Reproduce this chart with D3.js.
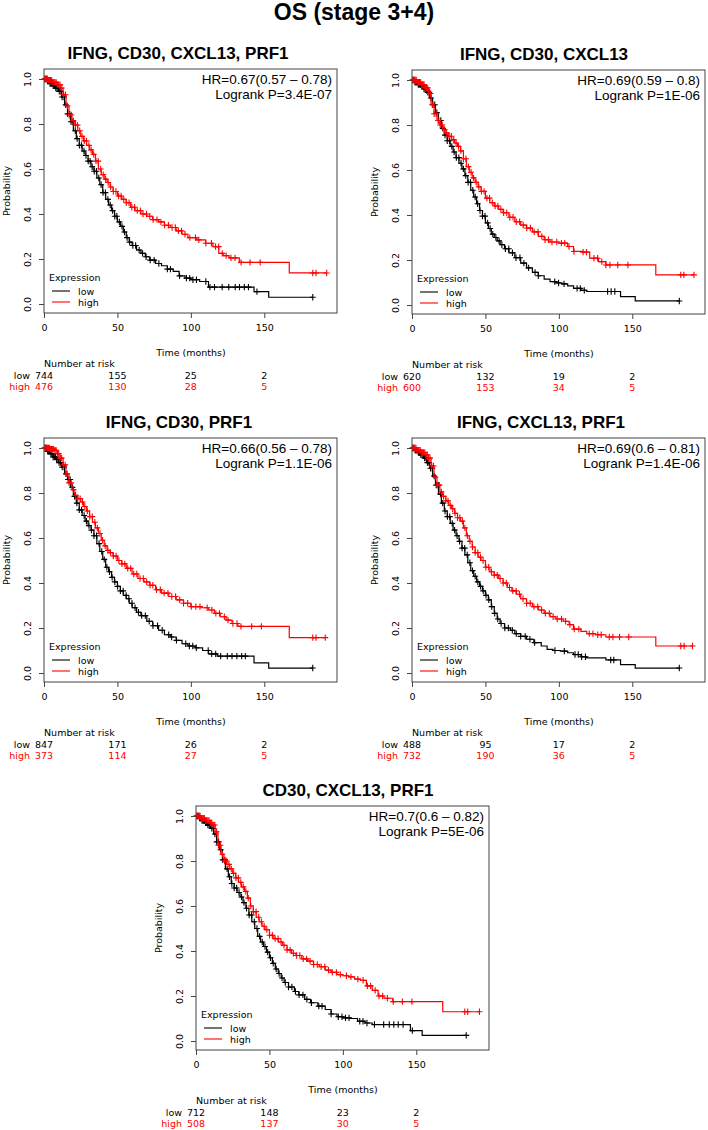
<!DOCTYPE html>
<html><head><meta charset="utf-8">
<script src="https://cdn.jsdelivr.net/npm/d3@7"></script>
<style>body{margin:0;background:#fff}svg{display:block}</style>
</head><body>
<svg id="chart" width="708" height="1130"></svg>
<script>
// ---------- data ----------
const mainTitle = "OS (stage 3+4)";
const titles = ["IFNG, CD30, CXCL13, PRF1","IFNG, CD30, CXCL13","IFNG, CD30, PRF1","IFNG, CXCL13, PRF1","CD30, CXCL13, PRF1"];
const hrTexts = ["HR=0.67(0.57 \u2013 0.78)","HR=0.69(0.59 \u2013 0.8)","HR=0.66(0.56 \u2013 0.78)","HR=0.69(0.6 \u2013 0.81)","HR=0.7(0.6 \u2013 0.82)"];
const pTexts = ["Logrank P=3.4E-07","Logrank P=1E-06","Logrank P=1.1E-06","Logrank P=1.4E-06","Logrank P=5E-06"];
const xTicks = [0,50,100,150];
const yTicks = [0,0.2,0.4,0.6,0.8,1.0];
const riskTimes = [0,50,100,150];
const groups = ["low","high"];

// panel 1
const p1LowT = [0,2,4,6,8,10,12,14,16,18,20,22,24,26,28,30,32,34,36,38,40,42,44,46,48,50,52,54,56,58,60,63,66,69,72,76,80,84,88,92,96,100,106,112,143,153,183];
const p1LowS = [1,0.99,0.98,0.97,0.96,0.945,0.92,0.885,0.845,0.81,0.77,0.735,0.705,0.68,0.66,0.635,0.61,0.59,0.56,0.53,0.495,0.465,0.44,0.415,0.39,0.365,0.345,0.32,0.295,0.275,0.26,0.24,0.225,0.21,0.195,0.18,0.17,0.155,0.145,0.125,0.115,0.108,0.1,0.075,0.055,0.03,0.03];
const p1LowC = [0.5,1.2,1.9,2.6,3.3,4.1,4.8,5.5,6.3,7.2,8.0,8.9,9.6,10.4,11.5,12.3,13.6,14.8,16.1,17.5,18.4,19.7,21.3,22.6,24.1,25.5,27.2,28.6,30.1,31.4,32.8,34.2,35.7,37.3,38.9,40.2,41.8,43.5,45.1,46.7,48.2,49.6,51.3,53.1,54.8,56.6,58.3,60.5,62.4,64.8,67.1,69.5,72.3,75.0,78.2,84.0,86.1,92.3,97.0,99.2,101.4,103.8,110.2,113.0,116.1,121.3,125.8,130.2,133.1,136.4,139.2,145.0,183.0];
const p1HighT = [0,3,6,9,11,13,15,17,19,21,23,25,27,29,31,33,35,37,39,41,43,45,47,50,53,56,59,62,66,70,74,78,82,86,90,94,98,104,110,115,119,122,126,133,167,192.5];
const p1HighS = [1,0.995,0.985,0.975,0.96,0.93,0.88,0.84,0.815,0.795,0.77,0.745,0.725,0.705,0.685,0.665,0.635,0.6,0.575,0.555,0.54,0.52,0.5,0.48,0.465,0.45,0.43,0.415,0.4,0.39,0.375,0.365,0.35,0.34,0.325,0.31,0.295,0.285,0.27,0.255,0.225,0.215,0.205,0.185,0.138,0.138];
const p1HighC = [0.4,1.0,1.7,2.3,3.0,3.8,4.5,5.2,6.0,6.8,7.5,8.3,9.1,10.0,10.9,12.1,13.3,14.6,16.0,17.2,18.6,19.9,21.4,22.8,24.3,25.9,27.4,28.9,30.6,32.1,33.8,35.4,36.9,38.6,40.3,42.0,43.7,45.4,47.2,49.0,50.8,52.5,54.3,56.0,57.9,59.8,61.7,63.5,65.6,67.4,69.8,72.0,74.3,76.9,79.6,82.1,84.7,87.2,89.4,91.5,93.6,96.0,99.3,103.1,105.4,110.2,114.0,116.8,118.9,121.4,124.0,127.3,130.1,134.2,140.3,147.2,183.0,185.2,192.5];
const p1RiskLow = [744,155,25,2];
const p1RiskHigh = [476,130,28,5];

// panel 2
const p2LowT = [0,2,4,6,8,10,12,14,16,18,20,22,24,26,28,30,32,34,36,38,40,42,44,46,48,50,52,54,56,58,60,63,66,70,74,78,82,86,90,94,98,102,106,110,115,119,142,152,182];
const p2LowS = [1,0.99,0.98,0.975,0.96,0.945,0.92,0.89,0.855,0.82,0.785,0.755,0.73,0.705,0.68,0.655,0.63,0.605,0.575,0.545,0.51,0.48,0.45,0.42,0.395,0.365,0.34,0.315,0.3,0.285,0.268,0.25,0.232,0.21,0.186,0.165,0.145,0.13,0.115,0.104,0.098,0.094,0.085,0.074,0.065,0.06,0.037,0.018,0.018];
const p2LowC = [0.6,1.3,2.0,2.8,3.5,4.3,5.0,5.8,6.6,7.4,8.2,9.0,9.9,10.8,11.7,12.9,14.2,15.5,16.9,18.2,19.6,21.0,22.5,24.0,25.6,27.1,28.7,30.2,31.9,33.4,35.0,36.6,38.2,39.8,41.4,43.0,44.7,46.3,48.0,49.7,51.5,53.2,55.0,57.1,59.3,61.2,63.6,65.9,68.4,70.8,73.5,76.2,79.4,83.8,86.0,97.2,99.8,103.5,112.4,114.6,117.3,133.2,135.6,138.1,182.0];
const p2HighT = [0,3,6,9,11,13,15,17,19,21,23,25,27,29,31,33,35,37,39,41,43,45,47,50,53,56,59,62,66,70,74,78,82,86,90,94,100,106,110,116,121,127,132,166,192];
const p2HighS = [1,0.99,0.98,0.965,0.94,0.89,0.85,0.82,0.8,0.78,0.765,0.75,0.735,0.72,0.705,0.685,0.65,0.615,0.59,0.565,0.545,0.525,0.505,0.475,0.455,0.44,0.425,0.41,0.39,0.37,0.355,0.342,0.325,0.305,0.29,0.28,0.275,0.26,0.238,0.235,0.208,0.193,0.178,0.134,0.134];
const p2HighC = [0.3,0.9,1.6,2.2,2.9,3.6,4.4,5.1,5.9,6.7,7.4,8.2,9.0,9.8,10.7,11.6,12.6,13.8,15.1,16.4,17.8,19.2,20.6,22.1,23.6,25.2,26.8,28.4,30.0,31.7,33.3,35.0,36.7,38.4,40.2,41.9,43.7,45.5,47.3,49.1,51.0,52.8,54.7,56.6,58.5,60.5,62.4,64.5,66.6,68.8,71.0,73.3,75.7,78.1,80.6,83.2,85.8,88.4,90.6,92.9,95.3,98.6,101.7,104.0,106.9,110.3,116.5,118.8,123.9,126.4,129.2,132.0,134.8,140.1,147.0,183.0,185.1,192.0];
const p2RiskLow = [620,132,19,2];
const p2RiskHigh = [600,153,34,5];

// panel 3
const p3LowT = [0,2,4,6,8,10,12,14,16,18,20,22,24,26,28,30,32,34,36,38,40,42,44,46,48,50,52,54,56,58,60,63,66,70,74,78,82,86,90,94,98,103,108,112,118,143,153,183];
const p3LowS = [1,0.985,0.975,0.96,0.95,0.935,0.915,0.885,0.86,0.825,0.785,0.755,0.725,0.7,0.675,0.655,0.635,0.61,0.575,0.54,0.505,0.47,0.45,0.425,0.405,0.385,0.365,0.345,0.33,0.31,0.29,0.27,0.255,0.23,0.21,0.19,0.17,0.16,0.145,0.13,0.12,0.112,0.1,0.085,0.075,0.045,0.022,0.022];
const p3LowC = [0.5,1.1,1.8,2.5,3.2,3.9,4.7,5.4,6.2,7.0,7.8,8.6,9.5,10.3,11.3,12.4,13.7,15.0,16.4,17.8,19.3,20.8,22.4,24.0,25.6,27.3,28.9,30.6,32.3,34.0,35.8,37.5,39.3,41.0,42.8,44.6,46.4,48.2,50.1,52.0,53.9,55.9,57.8,59.9,62.0,64.3,66.5,69.0,71.6,74.2,77.3,80.5,84.9,86.9,90.2,96.5,99.0,101.3,103.7,111.8,114.2,116.9,120.3,124.8,128.0,131.3,134.6,137.1,183.0];
const p3HighT = [0,4,7,9,11,13,15,17,19,21,23,25,27,29,31,33,35,37,39,41,43,45,47,50,53,56,60,64,68,72,76,80,85,90,95,100,107,112,116,120,124,128,132,167,191.5];
const p3HighS = [1,0.995,0.99,0.975,0.955,0.925,0.885,0.845,0.815,0.79,0.775,0.76,0.74,0.72,0.695,0.67,0.645,0.62,0.59,0.565,0.545,0.535,0.52,0.5,0.485,0.465,0.44,0.42,0.405,0.39,0.37,0.355,0.34,0.325,0.31,0.295,0.29,0.28,0.265,0.25,0.235,0.22,0.207,0.157,0.157];
const p3HighC = [0.4,1.0,1.6,2.3,3.0,3.7,4.4,5.1,5.9,6.6,7.4,8.2,9.1,10.0,11.0,12.0,13.2,14.4,15.8,17.1,18.5,20.0,21.5,23.0,24.6,26.2,27.8,29.5,31.2,32.9,34.6,36.3,38.1,39.9,41.7,43.5,45.3,47.2,49.1,51.0,53.0,55.0,57.0,59.0,61.1,63.2,65.4,67.6,69.9,72.2,74.1,76.6,79.2,81.8,84.4,87.0,89.6,92.4,95.0,97.8,100.3,103.4,106.2,111.1,114.3,117.0,119.5,122.8,125.3,128.6,131.4,134.1,141.4,148.0,183.0,185.2,191.5];
const p3RiskLow = [847,171,26,2];
const p3RiskHigh = [373,114,27,5];

// panel 4
const p4LowT = [0,2,4,6,8,10,12,14,16,18,20,22,24,26,28,30,32,34,36,38,40,42,44,46,48,50,52,54,56,58,60,63,67,70,74,78,83,88,92,96,101,106,110,115,119,132,142,152,182];
const p4LowS = [1,0.99,0.98,0.97,0.955,0.935,0.91,0.875,0.835,0.795,0.755,0.72,0.695,0.665,0.635,0.61,0.585,0.555,0.525,0.49,0.455,0.43,0.405,0.385,0.365,0.345,0.325,0.295,0.265,0.24,0.22,0.2,0.19,0.175,0.163,0.15,0.135,0.12,0.105,0.1,0.097,0.09,0.082,0.072,0.067,0.058,0.037,0.022,0.022];
const p4LowC = [0.6,1.3,2.1,2.8,3.6,4.4,5.2,6.0,6.9,7.7,8.6,9.5,10.5,11.5,12.6,13.8,15.1,16.5,17.9,19.4,20.9,22.5,24.1,25.7,27.4,29.0,30.7,32.4,34.1,35.9,37.6,39.4,41.2,43.0,44.8,46.7,48.5,50.4,52.3,54.3,56.3,58.4,60.7,63.2,65.6,68.3,71.0,74.0,77.1,80.3,83.5,97.3,103.7,111.0,113.2,115.5,118.1,135.3,137.4,182.0];
const p4HighT = [0,3,6,9,11,13,15,17,19,21,23,25,27,29,31,33,35,37,39,41,43,45,47,50,53,56,59,62,65,68,71,74,78,82,86,90,94,98,103,107,110,115,119,125,132,166,191];
const p4HighS = [1,0.99,0.98,0.97,0.955,0.92,0.87,0.835,0.805,0.785,0.765,0.745,0.73,0.71,0.69,0.675,0.645,0.61,0.585,0.56,0.535,0.515,0.5,0.47,0.45,0.435,0.42,0.4,0.38,0.365,0.35,0.33,0.31,0.295,0.28,0.265,0.25,0.24,0.23,0.215,0.195,0.185,0.175,0.17,0.16,0.12,0.12];
const p4HighC = [0.3,0.8,1.4,2.0,2.7,3.4,4.1,4.8,5.6,6.3,7.1,7.9,8.7,9.5,10.4,11.3,12.3,13.4,14.6,15.9,17.2,18.6,20.0,21.5,23.0,24.5,26.1,27.7,29.3,31.0,32.6,34.3,36.0,37.7,39.5,41.2,43.0,44.8,46.6,48.4,50.3,52.2,54.1,56.0,58.0,60.0,62.1,64.2,66.4,68.6,70.9,73.2,75.6,78.0,80.5,83.0,85.6,88.2,90.8,93.5,96.1,98.9,101.8,104.6,107.5,110.5,113.6,120.7,123.2,126.5,128.8,134.3,136.8,141.3,147.6,183.0,185.3,191.0];
const p4RiskLow = [488,95,17,2];
const p4RiskHigh = [732,190,36,5];

// panel 5
const p5LowT = [0,2,4,6,8,10,12,14,16,18,20,22,24,26,28,30,32,34,36,38,40,42,44,46,48,50,52,54,56,58,60,63,67,70,74,78,83,88,92,96,100,105,110,115,120,146,154,184];
const p5LowS = [1,0.99,0.98,0.97,0.96,0.945,0.92,0.885,0.85,0.805,0.765,0.73,0.7,0.68,0.66,0.64,0.615,0.59,0.56,0.53,0.5,0.465,0.44,0.42,0.395,0.37,0.345,0.32,0.3,0.28,0.26,0.24,0.22,0.205,0.185,0.17,0.155,0.14,0.12,0.108,0.103,0.1,0.088,0.08,0.073,0.046,0.025,0.025];
const p5LowC = [0.5,1.2,1.9,2.6,3.4,4.1,4.9,5.7,6.5,7.3,8.1,9.0,9.9,10.8,11.8,12.9,14.1,15.4,16.8,18.2,19.7,21.2,22.8,24.4,26.0,27.7,29.3,31.0,32.7,34.4,36.2,37.9,39.7,41.5,43.3,45.1,47.0,48.8,50.7,52.6,54.6,56.6,58.6,60.8,63.0,65.3,67.7,70.2,72.8,75.5,78.6,83.6,85.8,92.0,96.9,99.4,101.8,104.2,111.5,113.7,116.4,121.5,127.8,131.6,134.7,137.7,141.0,147.3,184.0];
const p5HighT = [0,3,6,9,11,13,15,17,19,21,23,25,27,29,31,33,35,37,39,41,43,45,47,50,53,56,59,62,65,68,72,76,80,84,88,92,96,100,104,108,112,116,120,124,128,134,168,193];
const p5HighS = [1,0.99,0.98,0.97,0.96,0.93,0.87,0.83,0.8,0.785,0.765,0.745,0.725,0.705,0.685,0.665,0.635,0.6,0.575,0.55,0.53,0.51,0.495,0.47,0.455,0.44,0.425,0.405,0.39,0.38,0.365,0.355,0.34,0.33,0.315,0.305,0.295,0.29,0.285,0.275,0.27,0.245,0.225,0.2,0.19,0.175,0.13,0.13];
const p5HighC = [0.4,0.9,1.5,2.2,2.8,3.5,4.2,5.0,5.7,6.5,7.3,8.1,8.9,9.8,10.7,11.7,12.8,14.0,15.3,16.6,18.0,19.4,20.9,22.4,24.0,25.6,27.2,28.8,30.5,32.2,33.9,35.6,37.3,39.1,40.9,42.7,44.5,46.4,48.2,50.1,52.0,53.9,55.9,57.9,59.9,62.0,64.1,66.3,68.5,70.7,73.0,75.3,77.7,80.1,82.6,85.2,87.7,90.2,92.8,95.6,98.3,102.4,105.5,110.2,113.8,116.7,118.9,122.0,124.6,127.1,130.3,134.3,140.5,147.0,183.0,185.0,193.0];
const p5RiskLow = [712,148,23,2];
const p5RiskHigh = [508,137,30,5];

// ---------- layout ----------
const layout = [
  {L:44, T:69, tx:178},
  {L:412, T:70, tx:544},
  {L:44, T:438, tx:179},
  {L:412, T:438, tx:541},
  {L:196, T:806, tx:348}
];
const W = 293, H = 244;
const colors = {low:"#000000", high:"#ff0000"};

const curves = [
  {low:[p1LowT,p1LowS,p1LowC], high:[p1HighT,p1HighS,p1HighC], risk:{low:p1RiskLow, high:p1RiskHigh}},
  {low:[p2LowT,p2LowS,p2LowC], high:[p2HighT,p2HighS,p2HighC], risk:{low:p2RiskLow, high:p2RiskHigh}},
  {low:[p3LowT,p3LowS,p3LowC], high:[p3HighT,p3HighS,p3HighC], risk:{low:p3RiskLow, high:p3RiskHigh}},
  {low:[p4LowT,p4LowS,p4LowC], high:[p4HighT,p4HighS,p4HighC], risk:{low:p4RiskLow, high:p4RiskHigh}},
  {low:[p5LowT,p5LowS,p5LowC], high:[p5HighT,p5HighS,p5HighC], risk:{low:p5RiskLow, high:p5RiskHigh}}
];

const svg = d3.select("#chart");
const sans = "'Liberation Sans', Arial, sans-serif";
const dv = "'DejaVu Sans', sans-serif";

svg.append("text").attr("x",354).attr("y",20).attr("text-anchor","middle")
  .attr("font-family",sans).attr("font-weight","bold").attr("font-size",23).text(mainTitle);

curves.forEach((cv, i) => {
  const {L, T, tx} = layout[i];
  const B = T + H, R = L + W;
  const x = d3.scaleLinear().domain([0, 199.5]).range([L, R]);
  const y = d3.scaleLinear().domain([0, 1]).range([T + 235, T + 10]);
  const g = svg.append("g");

  // title
  g.append("text").attr("x",tx).attr("y",T-10).attr("text-anchor","middle")
    .attr("font-family",sans).attr("font-weight","bold").attr("font-size",17).text(titles[i]);

  // curves
  const line = d3.line().x(d=>x(d[0])).y(d=>y(d[1])).curve(d3.curveStepAfter);
  groups.forEach(gr => {
    const [ts, ss, cs] = cv[gr];
    const pts = ts.map((t,k)=>[t, ss[k]]);
    g.append("path").datum(pts).attr("d",line).attr("fill","none")
      .attr("stroke",colors[gr]).attr("stroke-width",1.2);
    const survAt = t => ss[Math.max(0, d3.bisectRight(ts, t) - 1)];
    g.append("g").selectAll("path").data(cs).join("path")
      .attr("transform", t => `translate(${x(t)},${y(survAt(t))})`)
      .attr("d","M-3,0H3M0,-3.2V3.2").attr("stroke",colors[gr]).attr("stroke-width",1.1).attr("fill","none");
  });

  // box
  g.append("rect").attr("x",L).attr("y",T).attr("width",W).attr("height",H)
    .attr("fill","none").attr("stroke","#444").attr("stroke-width",1);

  // x axis
  const xa = g.append("g").attr("transform",`translate(0,${B})`)
    .call(d3.axisBottom(x).tickValues(xTicks).tickSize(5).tickSizeOuter(0).tickPadding(6));
  xa.select(".domain").remove();
  xa.selectAll("line").attr("stroke","#444");
  xa.selectAll("text").attr("font-family",dv).attr("font-size",9.5).attr("fill","#000");

  // y axis
  const ya = g.append("g").attr("transform",`translate(${L},0)`)
    .call(d3.axisLeft(y).tickValues(yTicks).tickFormat(d3.format(".1f")).tickSize(5).tickSizeOuter(0));
  ya.select(".domain").remove();
  ya.selectAll("line").attr("stroke","#444");
  ya.selectAll("text").attr("x",0).attr("dy","0.35em").attr("text-anchor","middle")
    .attr("transform","translate(-16,0) rotate(-90)")
    .attr("font-family",dv).attr("font-size",9.5).attr("fill","#000");

  // axis titles
  g.append("text").attr("transform",`translate(${L-34},${T+122}) rotate(-90)`).attr("text-anchor","middle")
    .attr("font-family",dv).attr("font-size",9.5).text("Probability");
  g.append("text").attr("x",L+147).attr("y",B+43).attr("text-anchor","middle")
    .attr("font-family",dv).attr("font-size",9.5).text("Time (months)");

  // HR text
  g.append("text").attr("x",R-5).attr("y",T+15).attr("text-anchor","end")
    .attr("font-family",sans).attr("font-size",13.5).text(hrTexts[i]);
  g.append("text").attr("x",R-5).attr("y",T+29.5).attr("text-anchor","end")
    .attr("font-family",sans).attr("font-size",13.5).text(pTexts[i]);

  // legend
  g.append("text").attr("x",L+5).attr("y",B-32.5).attr("font-family",dv).attr("font-size",9.5).text("Expression");
  groups.forEach((gr, k) => {
    const ly = B - 22 + k*11;
    g.append("line").attr("x1",L+8).attr("x2",L+26).attr("y1",ly).attr("y2",ly)
      .attr("stroke",colors[gr]).attr("stroke-width",1.1);
    g.append("text").attr("x",L+34).attr("y",ly+3.5).attr("font-family",dv).attr("font-size",9.5).text(gr);
  });

  // number at risk
  g.append("text").attr("x",L).attr("y",B+53.5).attr("font-family",dv).attr("font-size",9.5).text("Number at risk");
  groups.forEach((gr, k) => {
    const ry = B + 65.5 + k*11;
    g.append("text").attr("x",L-14).attr("y",ry).attr("text-anchor","end")
      .attr("font-family",dv).attr("font-size",9.5).attr("fill",colors[gr]).text(gr);
    g.append("g").selectAll("text").data(cv.risk[gr]).join("text")
      .attr("x",(d,j)=>x(riskTimes[j])).attr("y",ry).attr("text-anchor","middle")
      .attr("font-family",dv).attr("font-size",9.5).attr("fill",colors[gr]).text(d=>d);
  });
});
</script>
</body></html>
